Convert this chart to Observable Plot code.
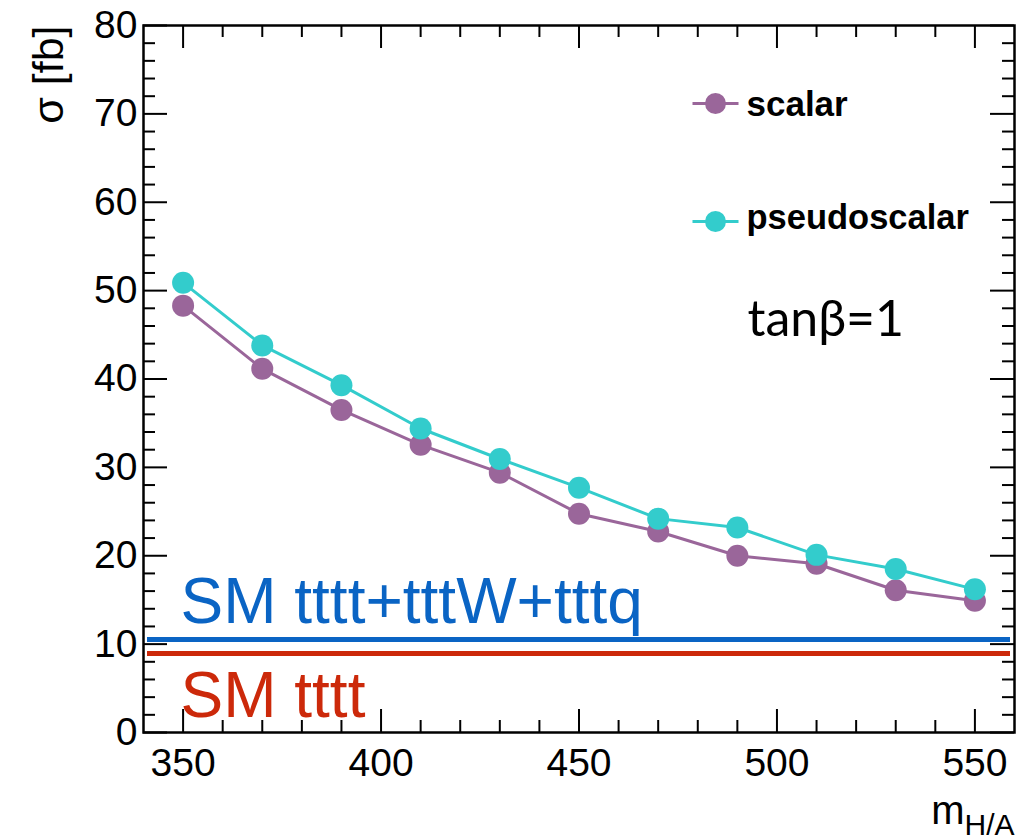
<!DOCTYPE html>
<html>
<head>
<meta charset="utf-8">
<script src="https://cdn.jsdelivr.net/npm/d3@7"></script>
<script src="https://cdn.jsdelivr.net/npm/@observablehq/plot@0.6"></script>
<style>
  html, body { margin: 0; padding: 0; background: #fff; overflow: hidden; }
  #chart svg { display: block; }
</style>
</head>
<body>
<div id="chart"></div>
<script>
// ---- data ----
const masses = [350, 370, 390, 410, 430, 450, 470, 490, 510, 530, 550];
const scalarXsec = [48.3, 41.15, 36.5, 32.55, 29.4, 24.75, 22.75, 20.0, 19.1, 16.1, 14.9];
const pseudoscalarXsec = [50.9, 43.8, 39.3, 34.4, 30.95, 27.7, 24.2, 23.2, 20.1, 18.5, 16.2];
const smTtttPlusXsec = 10.52;   // SM tttt+tttW+tttq
const smTtttXsec = 8.94;        // SM tttt
const seriesNames = ["scalar", "pseudoscalar"];
const xMajorTicks = [350, 400, 450, 500, 550];
const xMinorTicks = [360, 370, 380, 390, 410, 420, 430, 440, 460, 470, 480, 490, 510, 520, 530, 540];
const yMajorTicks = [0, 10, 20, 30, 40, 50, 60, 70, 80];
const yMinorTicks = [2, 4, 6, 8, 12, 14, 16, 18, 22, 24, 26, 28, 32, 34, 36, 38, 42, 44, 46, 48,
                     52, 54, 56, 58, 62, 64, 66, 68, 72, 74, 76, 78];
const xDomain = [340, 560];
const yDomain = [0, 80];

// ---- layout / styles ----
const W = 1028, H = 840;
const mL = 143, mR = 14, mT = 25, mB = 108;
const plotW = W - mL - mR, plotH = H - mT - mB;
const colors = {scalar: "#9a669a", pseudoscalar: "#33cccc", smAll: "#0a64c4", sm: "#cc290a"};
const font = "'Liberation Sans', Arial, Helvetica, sans-serif";

const scalarData = masses.map((m, i) => ({m, xs: scalarXsec[i]}));
const pseudoData = masses.map((m, i) => ({m, xs: pseudoscalarXsec[i]}));

const legendLine = {
  draw(ctx) { ctx.moveTo(-23, 0); ctx.lineTo(23, 0); }
};

const chart = Plot.plot({
  width: W, height: H,
  marginLeft: mL, marginRight: mR, marginTop: mT, marginBottom: mB,
  style: {fontFamily: font, background: "#fff", color: "#000"},
  x: {domain: xDomain},
  y: {domain: yDomain},
  marks: [
    // SM reference lines
    Plot.ruleY([smTtttPlusXsec], {y: d => d, stroke: colors.smAll, strokeWidth: 5, insetLeft: 4, insetRight: 4}),
    Plot.ruleY([smTtttXsec], {y: d => d, stroke: colors.sm, strokeWidth: 5, insetLeft: 4, insetRight: 4}),
    Plot.text([smTtttPlusXsec], {y: d => d, text: () => "SM tttt+tttW+tttq", frameAnchor: "left",
      textAnchor: "start", lineAnchor: "bottom", dx: 37, dy: -17, fontSize: 64, fill: colors.smAll}),
    Plot.text([smTtttXsec], {y: d => d, text: () => "SM tttt", frameAnchor: "left",
      textAnchor: "start", lineAnchor: "bottom", dx: 37, dy: 64, fontSize: 64, fill: colors.sm}),

    // series
    Plot.line(scalarData, {x: "m", y: "xs", stroke: colors.scalar, strokeWidth: 3}),
    Plot.dot(scalarData, {x: "m", y: "xs", r: 11, fill: colors.scalar}),
    Plot.line(pseudoData, {x: "m", y: "xs", stroke: colors.pseudoscalar, strokeWidth: 3}),
    Plot.dot(pseudoData, {x: "m", y: "xs", r: 11, fill: colors.pseudoscalar}),

    // frame and ticks on all four sides
    Plot.frame({stroke: "#000", strokeWidth: 2.5}),
    Plot.ruleX(xMajorTicks, {x: d => d, insetTop: plotH - 23, stroke: "#000", strokeWidth: 2}),
    Plot.ruleX(xMajorTicks, {x: d => d, insetBottom: plotH - 23, stroke: "#000", strokeWidth: 2}),
    Plot.ruleX(xMinorTicks, {x: d => d, insetTop: plotH - 12, stroke: "#000", strokeWidth: 2}),
    Plot.ruleX(xMinorTicks, {x: d => d, insetBottom: plotH - 12, stroke: "#000", strokeWidth: 2}),
    Plot.ruleY(yMajorTicks, {y: d => d, insetRight: plotW - 24, stroke: "#000", strokeWidth: 2}),
    Plot.ruleY(yMajorTicks, {y: d => d, insetLeft: plotW - 24, stroke: "#000", strokeWidth: 2}),
    Plot.ruleY(yMinorTicks, {y: d => d, insetRight: plotW - 12, stroke: "#000", strokeWidth: 2}),
    Plot.ruleY(yMinorTicks, {y: d => d, insetLeft: plotW - 12, stroke: "#000", strokeWidth: 2}),

    // tick labels
    Plot.axisX({ticks: xMajorTicks, tickSize: 0, tickPadding: 16, fontSize: 39, label: null}),
    Plot.axisY({ticks: yMajorTicks, tickSize: 0, tickPadding: 6, fontSize: 39, label: null}),

    // axis titles
    Plot.text(["σ [fb]"], {text: d => d, frameAnchor: "top-left", rotate: -90, textAnchor: "end",
      lineAnchor: "bottom", dx: -81, dy: 0, fontSize: 43}),
    Plot.text(["m"], {text: d => d, frameAnchor: "bottom-right", textAnchor: "end",
      lineAnchor: "bottom", dx: -50, dy: 91, fontSize: 40}),
    Plot.text(["H/A"], {text: d => d, frameAnchor: "bottom-right", textAnchor: "end",
      lineAnchor: "bottom", dx: 0, dy: 102, fontSize: 30}),

    // legend
    Plot.dot([seriesNames[0]], {frameAnchor: "top-left", dx: 572, dy: 78, symbol: legendLine, r: 5,
      stroke: colors.scalar, strokeWidth: 3}),
    Plot.dot([seriesNames[0]], {frameAnchor: "top-left", dx: 572, dy: 78, r: 10.5, fill: colors.scalar}),
    Plot.text([seriesNames[0]], {text: d => d, frameAnchor: "top-left", textAnchor: "start",
      lineAnchor: "bottom", dx: 603, dy: 90, fontSize: 35, fontWeight: "bold"}),
    Plot.dot([seriesNames[1]], {frameAnchor: "top-left", dx: 572, dy: 196, symbol: legendLine, r: 5,
      stroke: colors.pseudoscalar, strokeWidth: 3}),
    Plot.dot([seriesNames[1]], {frameAnchor: "top-left", dx: 572, dy: 196, r: 10.5, fill: colors.pseudoscalar}),
    Plot.text([seriesNames[1]], {text: d => d, frameAnchor: "top-left", textAnchor: "start",
      lineAnchor: "bottom", dx: 603, dy: 203, fontSize: 34.5, fontWeight: "bold"}),

    // annotation
    Plot.text(["tanβ=1"], {text: d => d, frameAnchor: "top-left", textAnchor: "start",
      lineAnchor: "bottom", dx: 604, dy: 310, fontSize: 50, fontFamily: "Lato, 'Open Sans', sans-serif"})
  ]
});

document.getElementById("chart").appendChild(chart);
</script>
</body>
</html>
